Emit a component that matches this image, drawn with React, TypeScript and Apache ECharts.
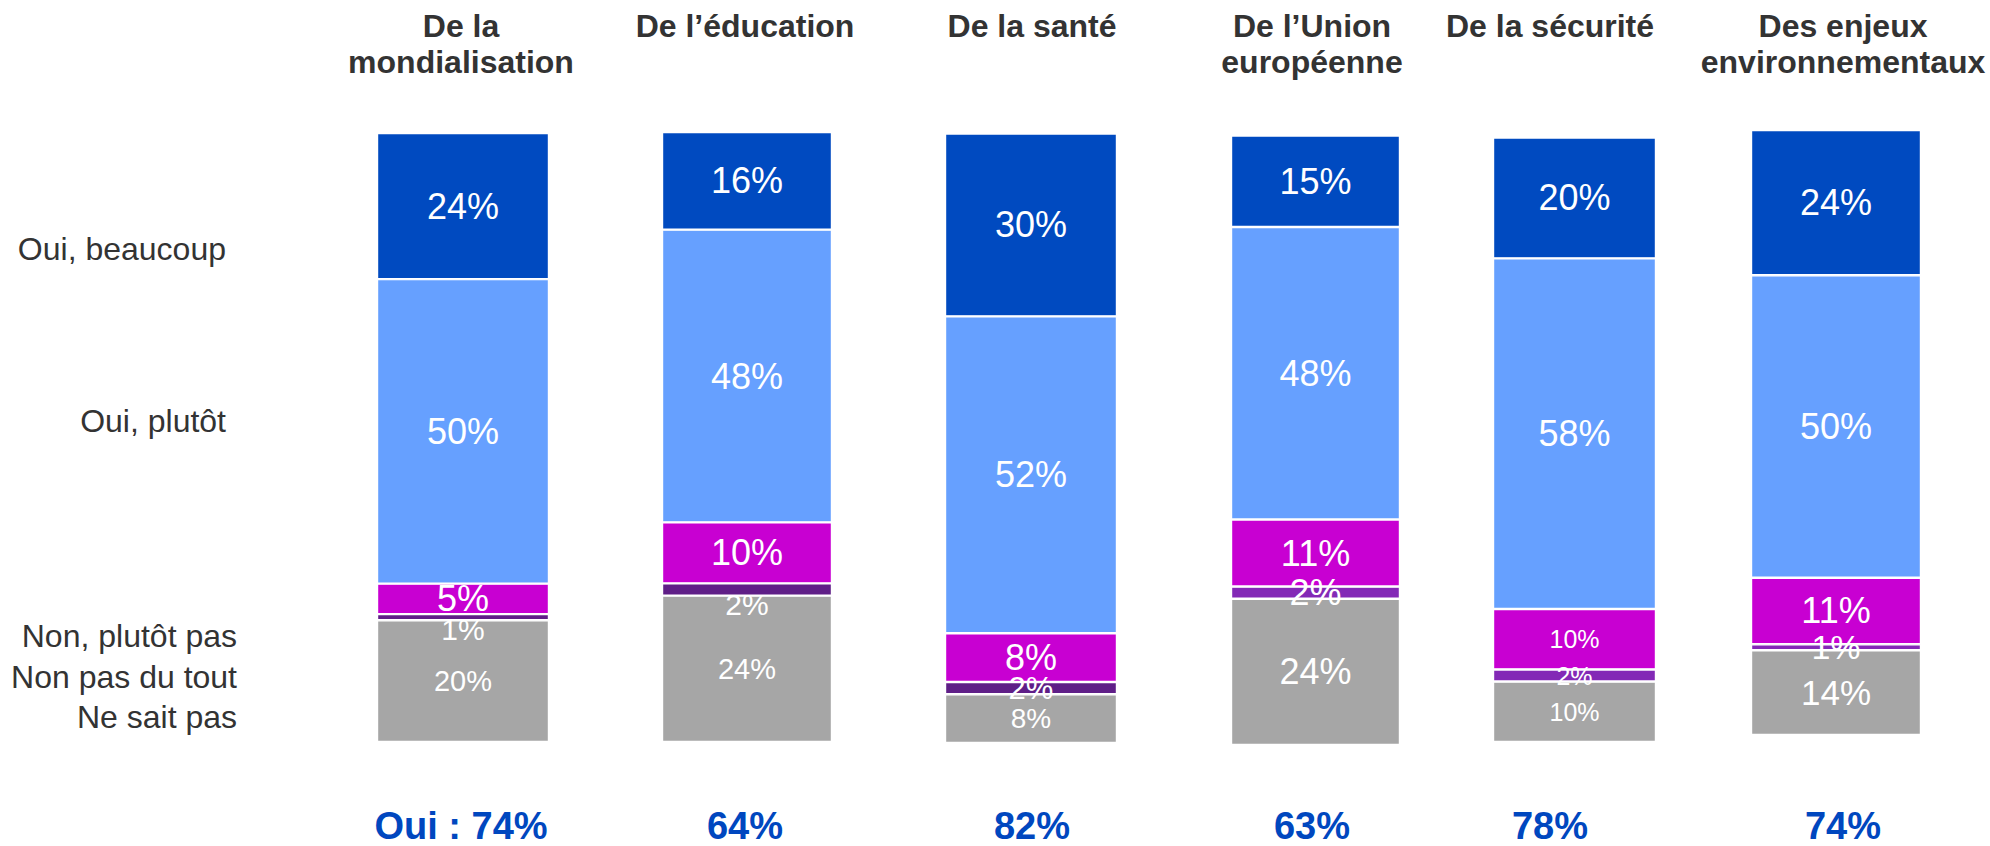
import React, { useEffect, useRef } from "react";
import * as echarts from "echarts";

// ---------- Data ----------
const CATEGORIES = [
  "De la\nmondialisation",
  "De l’éducation",
  "De la santé",
  "De l’Union\neuropéenne",
  "De la sécurité",
  "Des enjeux\nenvironnementaux",
];
const RESPONSES = ["Oui, beaucoup", "Oui, plutôt", "Non, plutôt pas", "Non pas du tout", "Ne sait pas"];
const OUI_BEAUCOUP = [24, 16, 30, 15, 20, 24];
const OUI_PLUTOT = [50, 48, 52, 48, 58, 50];
const NON_PLUTOT_PAS = [5, 10, 8, 11, 10, 11];
const NON_PAS_DU_TOUT = [1, 2, 2, 2, 2, 1];
const NE_SAIT_PAS = [20, 24, 8, 24, 10, 14];
const TOTAL_PREFIX = ["Oui : ", "", "", "", "", ""];

// ---------- Styles / layout (not data) ----------
const FONT = "'Liberation Sans', Arial, Helvetica, sans-serif";
const COLORS = {
  beaucoup: "#004AC0",
  plutot: "#66A0FF",
  plutotPas: "#C800D2",
  pasDuTout: ["#5F1E87", "#5F1E87", "#5F1E87", "#8329B6", "#8329B6", "#8329B6"],
  nsp: "#A6A6A6",
};
// grid boxes per bar: [left, width, top, height]
const BAR_BOXES = [
  [377, 172, 133, 609],
  [662, 170, 132, 610],
  [945, 172, 133.5, 609.5],
  [1231, 169, 135.5, 609.5],
  [1493, 163, 137.5, 604.5],
  [1751, 170, 130, 605],
];
const TEXT_CENTERS = [461, 745, 1032, 1312, 1550, 1843];
// label font sizes, per response per bar
const LABEL_SIZES = {
  beaucoup: [36, 36, 36, 36, 36, 36],
  plutot: [36, 36, 36, 36, 36, 36],
  plutotPas: [36, 36, 36, 36, 25, 36],
  pasDuTout: [30, 30, 31, 36, 25, 34],
  nsp: [29, 29, 28, 36, 25, 35],
};
const LABEL_OFFSETS_PAS_DU_TOUT = [[0, 12], [0, 15], [0, 0], [0, 0], [0, 0], [0, 0]];
const LEGEND_POS = [
  [226, 249],
  [226, 421],
  [237, 636],
  [237, 677],
  [237, 717],
];

export default function App() {
  const ref = useRef<HTMLDivElement>(null);

  useEffect(() => {
    if (!ref.current) return;
    const chart = echarts.init(ref.current, null, { renderer: "svg" });

    const grids: any[] = [];
    const xAxes: any[] = [];
    const yAxes: any[] = [];
    const series: any[] = [];

    const layers = [
      { key: "nsp", values: NE_SAIT_PAS },
      { key: "pasDuTout", values: NON_PAS_DU_TOUT },
      { key: "plutotPas", values: NON_PLUTOT_PAS },
      { key: "plutot", values: OUI_PLUTOT },
      { key: "beaucoup", values: OUI_BEAUCOUP },
    ];

    CATEGORIES.forEach((cat, i) => {
      const [left, width, top, height] = BAR_BOXES[i];
      grids.push({ left, width, top, height, containLabel: false });
      xAxes.push({ type: "category", gridIndex: i, data: [cat], show: false });
      yAxes.push({ type: "value", gridIndex: i, min: 0, max: 100, show: false });
      layers.forEach((layer) => {
        const c = (COLORS as any)[layer.key];
        const color = Array.isArray(c) ? c[i] : c;
        const size = (LABEL_SIZES as any)[layer.key][i];
        const offset = layer.key === "pasDuTout" ? LABEL_OFFSETS_PAS_DU_TOUT[i] : [0, 0];
        series.push({
          type: "bar",
          name: layer.key,
          stack: "s" + i,
          xAxisIndex: i,
          yAxisIndex: i,
          barWidth: "100%",
          itemStyle: { color, borderColor: "#ffffff", borderWidth: 1.2 },
          label: {
            show: true,
            position: "inside",
            formatter: "{c}%",
            color: "#ffffff",
            fontFamily: FONT,
            fontSize: size,
            offset,
          },
          data: [layer.values[i]],
        });
      });
    });

    const graphics: any[] = [];
    CATEGORIES.forEach((cat, i) => {
      cat.split("\n").forEach((line, k) => {
        graphics.push({
          type: "text",
          x: TEXT_CENTERS[i],
          y: 26 + k * 36,
          style: {
            text: line,
            fill: "#333333",
            font: `bold 32px ${FONT}`,
            align: "center",
            verticalAlign: "middle",
          },
        });
      });
      graphics.push({
        type: "text",
        x: TEXT_CENTERS[i],
        y: 826,
        style: {
          text: `${TOTAL_PREFIX[i]}${OUI_BEAUCOUP[i] + OUI_PLUTOT[i]}%`,
          fill: "#0047BF",
          font: `bold 38px ${FONT}`,
          align: "center",
          verticalAlign: "middle",
        },
      });
    });
    RESPONSES.forEach((r, j) => {
      graphics.push({
        type: "text",
        x: LEGEND_POS[j][0],
        y: LEGEND_POS[j][1],
        style: {
          text: r,
          fill: "#333333",
          font: `32px ${FONT}`,
          align: "right",
          verticalAlign: "middle",
        },
      });
    });

    chart.setOption({
      animation: false,
      backgroundColor: "#ffffff",
      grid: grids,
      xAxis: xAxes,
      yAxis: yAxes,
      series,
      graphic: graphics,
    });

    return () => chart.dispose();
  }, []);

  return (
    <div
      ref={ref}
      style={{ position: "fixed", left: 0, top: 0, width: 1990, height: 846 }}
    />
  );
}
